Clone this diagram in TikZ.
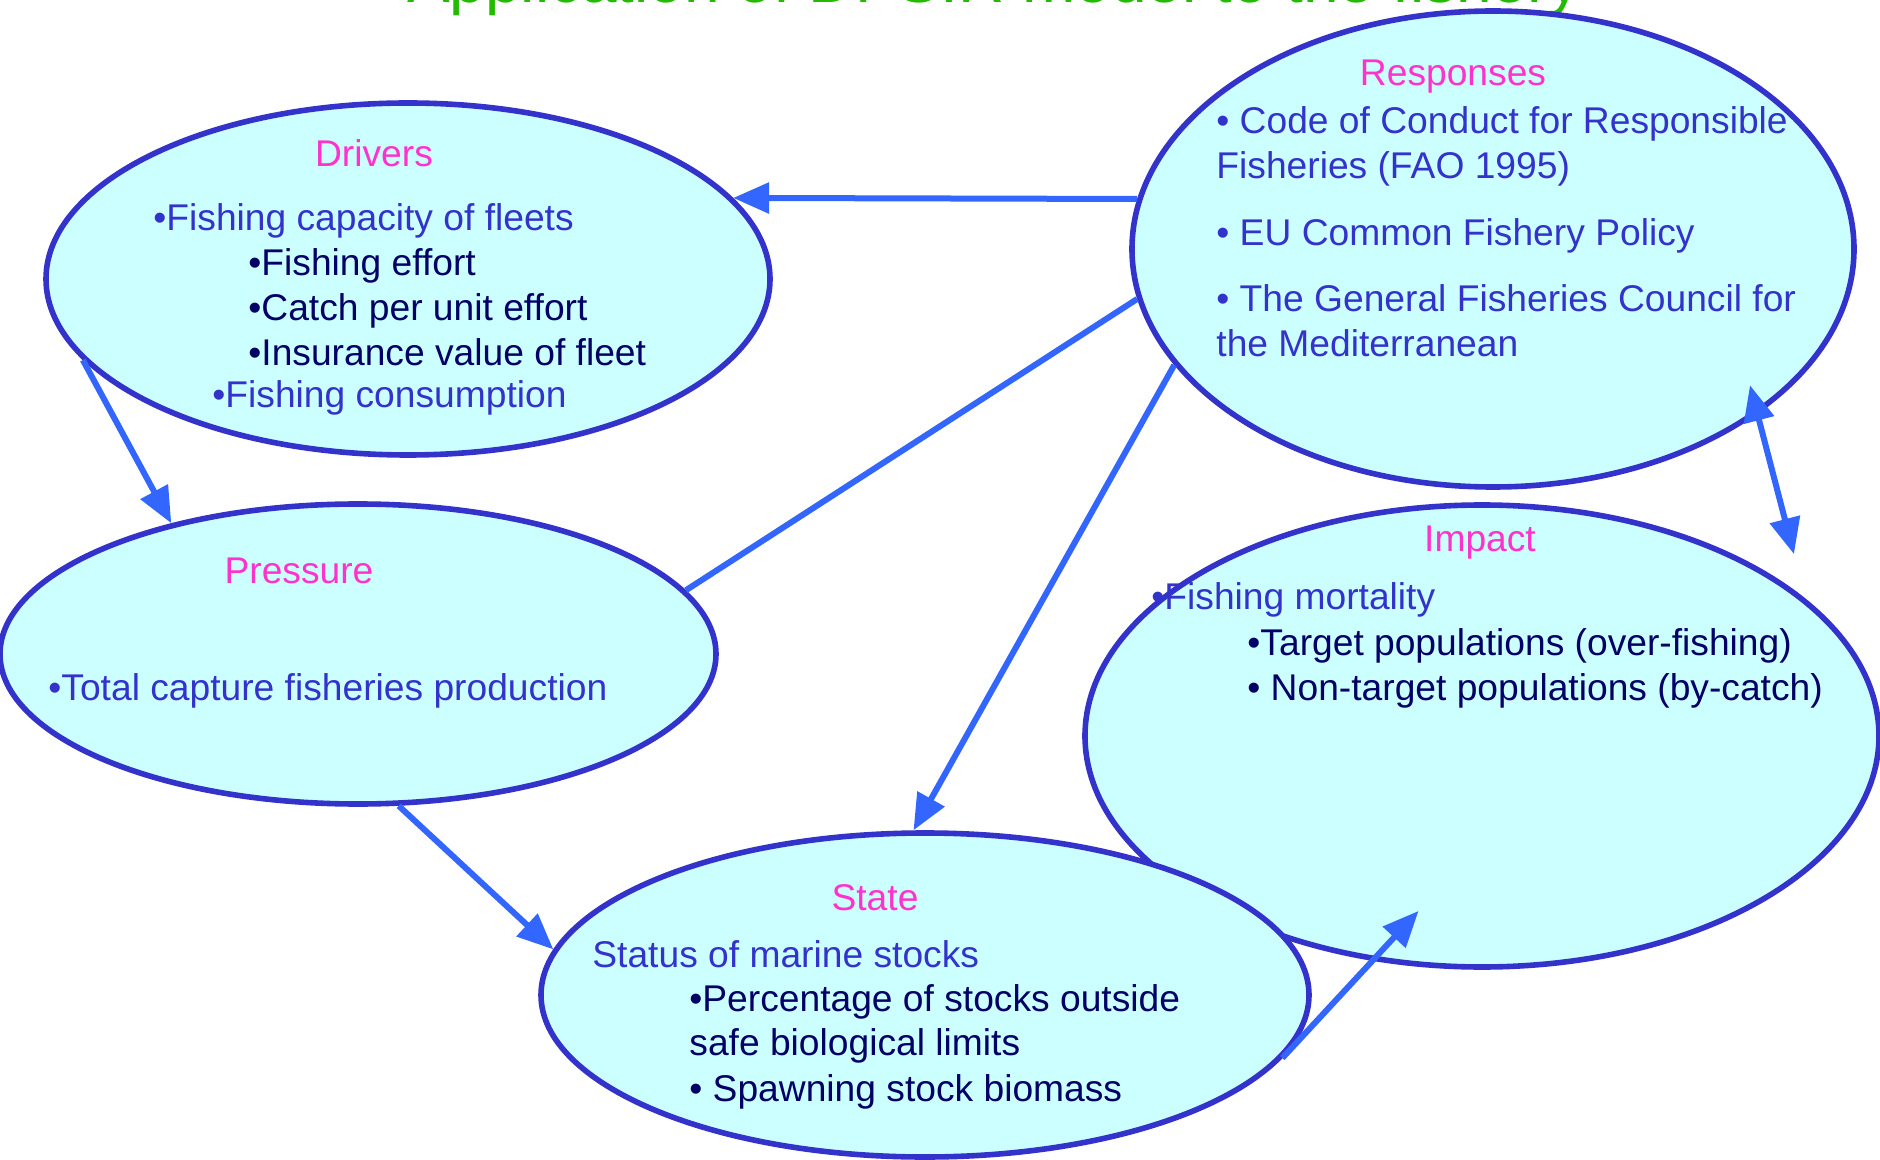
\documentclass[tikz,border=0pt]{standalone}
\usepackage{fontspec}
\setmainfont{Liberation Sans}
\usetikzlibrary{shapes.geometric,arrows.meta}
\definecolor{rim}{HTML}{3333CC}
\definecolor{pond}{HTML}{CCFFFF}
\definecolor{flow}{HTML}{3366FF}
\definecolor{head}{HTML}{FF33CC}
\definecolor{navy}{HTML}{000066}
\definecolor{titlegreen}{HTML}{22BB00}
\tikzstyle{pool} = [draw=rim, fill=pond, line width=2.8pt, ellipse, inner sep=0pt]
\tikzstyle{heading} = [text=head, inner sep=0pt, font=\fontsize{18.6}{22}\selectfont]
\tikzstyle{item} = [text=rim, anchor=west, inner sep=0pt, text height=13.5pt,
    text depth=4pt, font=\fontsize{18.6}{22}\selectfont]
\tikzstyle{subitem} = [item, text=navy]
\tikzstyle{link} = [draw=flow, line width=3pt, -{Triangle[length=18pt,width=15pt]}]

\begin{document}
\begin{tikzpicture}[x=0.5pt, y=-0.5pt]
                \useasboundingbox (0,0) rectangle (1880,1160);
                \clip (0,0) rectangle (1880,1160);
                \node[text=titlegreen, anchor=base, font=\fontsize{32}{36}\selectfont] (title) at (994,3) {Application of DPSIR model to the fishery};
                \node[pool, minimum width=362pt, minimum height=176pt] (drivers) at (408,279) {};
                \node[pool, minimum width=361pt, minimum height=238pt] (responses) at (1493,249) {};
                \node[pool, minimum width=358pt, minimum height=150pt] (pressure) at (358,654) {};
                \node[pool, minimum width=397pt, minimum height=231pt] (impact) at (1482,736) {};
                \node[pool, minimum width=384pt, minimum height=162pt] (state) at (925,995) {};
                % drivers
                \node[heading] (dhead) at (374,153) {Drivers};
                \node[item] (d1) at (153,221) {•Fishing capacity of fleets};
                \node[subitem] (d2) at (248,266) {•Fishing effort};
                \node[subitem] (d3) at (248,311) {•Catch per unit effort};
                \node[subitem] (d4) at (248,356) {•Insurance value of fleet};
                \node[item] (d5) at (212,398) {•Fishing consumption};
                % responses
                \node[heading] (rhead) at (1453,77) {Responses};
                \node[item] (r1) at (1216,124) {• Code of Conduct for Responsible};
                \node[item] (r2) at (1216,169) {Fisheries (FAO 1995)};
                \node[item] (r3) at (1216,236) {• EU Common Fishery Policy};
                \node[item] (r4) at (1216,302) {• The General Fisheries Council for};
                \node[item] (r5) at (1216,347) {the Mediterranean};
                % pressure
                \node[heading] (phead) at (299,571) {Pressure};
                \node[item] (p1) at (48,691) {•Total capture fisheries production};
                % impact
                \node[heading] (ihead) at (1480,543) {Impact};
                \node[item] (i1) at (1151,600) {•Fishing mortality};
                \node[subitem] (i2) at (1247,646) {•Target populations (over-fishing)};
                \node[subitem] (i3) at (1247,691) {• Non-target populations (by-catch)};
                % state
                \node[heading] (shead) at (875,898) {State};
                \node[item] (s1) at (592,958) {Status of marine stocks};
                \node[subitem] (s2) at (689,1002) {•Percentage of stocks outside};
                \node[subitem] (s3) at (689,1046) {safe biological limits};
                \node[subitem] (s4) at (689,1092) {• Spawning stock biomass};
                % links
                \draw[link] (responses.172) -- (drivers.14);
                \draw[link] (drivers.194) -- (pressure.145);
                \draw[link, -] (pressure.11) -- (responses.188);
                \draw[link] (responses.200) -- (state.94);
                \draw[link] (pressure.285) -- (state.173);
                \draw[link, shorten >=-34pt] (state.350) -- (impact.244);
                \draw[link, {Triangle[length=18pt,width=15pt]}-{Triangle[length=18pt,width=15pt]},
                    shorten <=-15pt, shorten >=23pt] (responses.328) -- (impact.23);
            \end{tikzpicture}
\end{document}
